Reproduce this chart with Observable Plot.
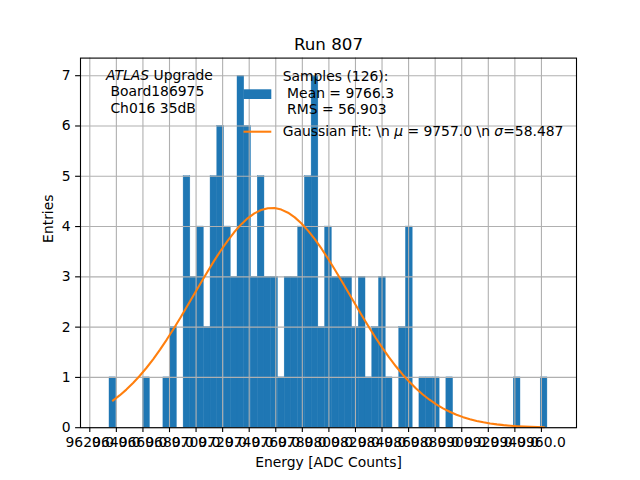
<!DOCTYPE html>
<html><head><meta charset="utf-8">
<script src="https://cdn.jsdelivr.net/npm/d3@7"></script>
<script src="https://cdn.jsdelivr.net/npm/@observablehq/plot@0.6"></script>
<style>body{margin:0;background:#fff}</style>
</head><body><div id="chart"></div>
<script>
// Histogram definition (65 equal bins) and counts
const binStart = 9634.83;
const binWidth = 5.072;
const counts = [1,0,0,0,0,1,0,0,1,2, 0,5,3,4,2,5,6,4,3,7, 6,3,5,3,3,1,3,3,4,5, 7,2,4,3,3,3,2,3,1,2, 3,1,0,2,4,0,1,1,1,0, 1,0,0,0,0,0,0,0,0,0, 1,0,0,0,1];
// Gaussian fit parameters
const fitMu = 9757.0;
const fitSigma = 58.487;
const fitAmp = 4.37;
// Tick values
const xTicks = [9620,9640,9660,9680,9700,9720,9740,9760,9780,9800,9820,9840,9860,9880,9900,9920,9940,9960];
const yTicks = [0,1,2,3,4,5,6,7];
const xDomain = [9613.0, 9986.4];
const yDomain = [0, 7.35];

const bins = counts.map((c, i) => ({x1: binStart + i*binWidth, x2: binStart + (i+1)*binWidth, count: c}));
const fit = bins.map(b => {
  const x = (b.x1 + b.x2) / 2;
  return {x, y: fitAmp * Math.exp(-((x - fitMu) ** 2) / (2 * fitSigma ** 2))};
});

const chart = Plot.plot({
  width: 640, height: 480,
  marginLeft: 80, marginRight: 64, marginTop: 57.6, marginBottom: 52.8,
  style: {fontFamily: "DejaVu Sans", fontSize: "13.9px", background: "white", color: "black"},
  x: {domain: xDomain},
  y: {domain: yDomain},
  marks: [
    Plot.rectY(bins, {filter: d => d.count > 0, x1: "x1", x2: "x2", y: "count", fill: "#1f77b4", stroke: "#1f77b4", strokeWidth: 0.4, inset: 0}),
    Plot.gridX(xTicks, {stroke: "#b0b0b0", strokeOpacity: 1, strokeWidth: 1.1}),
    Plot.gridY(yTicks, {stroke: "#b0b0b0", strokeOpacity: 1, strokeWidth: 1.1}),
    Plot.line(fit, {x: "x", y: "y", stroke: "#ff7f0e", strokeWidth: 2.08}),
    Plot.frame({stroke: "black", strokeWidth: 1.1}),
    Plot.axisX(xTicks, {tickFormat: d => d.toFixed(1), tickSize: 4.9, tickPadding: 4.9, strokeWidth: 1.1, label: null}),
    Plot.axisY(yTicks, {tickFormat: d => String(d), tickSize: 4.9, tickPadding: 4.9, strokeWidth: 1.1, label: null}),
    Plot.text(["Run 807"], {frameAnchor: "top", lineAnchor: "bottom", dy: -8.2, fontSize: 16.7}),
    Plot.text(["Energy [ADC Counts]"], {frameAnchor: "bottom", lineAnchor: "bottom", dy: 38.8, fontSize: 13.9}),
    Plot.text(["Entries"], {frameAnchor: "left", lineAnchor: "middle", rotate: -90, dx: -31.8, fontSize: 13.9})
  ]
});
document.getElementById("chart").appendChild(chart);

// Annotation and legend
const svg = d3.select(chart);
const g = svg.append("g").attr("font-family", "DejaVu Sans").attr("font-size", "13.9px")
  .attr("fill", "black").attr("text-anchor", "start");
function line(x, y, parts) {
  const t = g.append("text").attr("x", x).attr("y", y).attr("text-anchor", "start").style("white-space", "pre");
  parts.forEach(p => {
    const s = t.append("tspan").text(p[0]);
    if (p[1]) s.attr("font-style", "italic");
  });
}
line(106, 79.5, [["ATLAS", true], [" Upgrade"]]);
line(106, 96.4, [[" Board186975"]]);
line(106, 113.1, [[" Ch016 35dB"]]);

g.append("rect").attr("x", 243.5).attr("y", 89.3).attr("width", 27.8).attr("height", 9.7).attr("fill", "#1f77b4");
g.append("line").attr("x1", 243.5).attr("x2", 271.3).attr("y1", 131.7).attr("y2", 131.7)
  .attr("stroke", "#ff7f0e").attr("stroke-width", 2.08);
line(282.7, 80.9, [["Samples (126):"]]);
line(282.7, 97.6, [[" Mean = 9766.3"]]);
line(282.7, 114.3, [[" RMS = 56.903"]]);
line(282.7, 136.3, [["Gaussian Fit: \\n "], ["\u03bc", true], [" = 9757.0 \\n "], ["\u03c3", true], ["=58.487"]]);
</script>
</body></html>
